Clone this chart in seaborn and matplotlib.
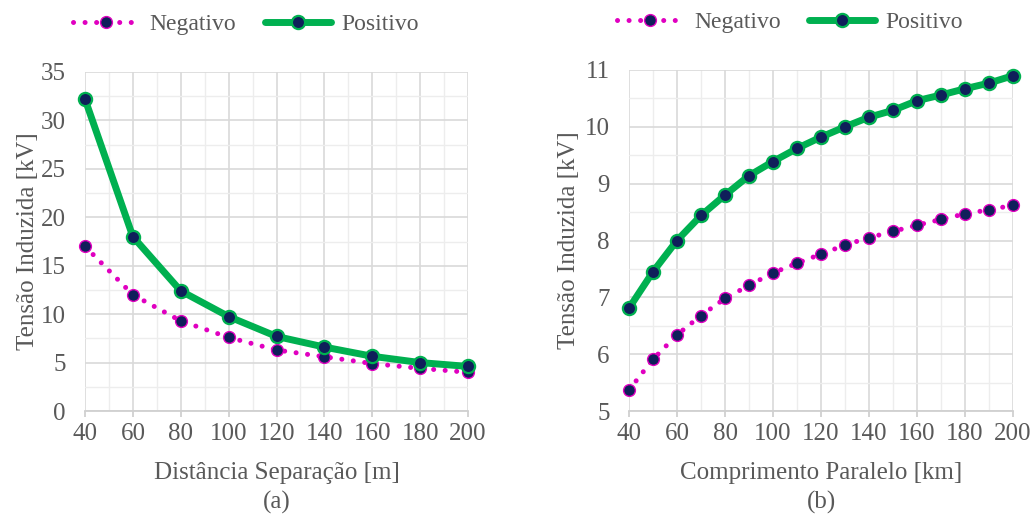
import numpy as np
import pandas as pd
import matplotlib
matplotlib.use("Agg")
import matplotlib.pyplot as plt
import seaborn as sns
from matplotlib.ticker import MultipleLocator
from matplotlib.lines import Line2D

# ---- data ----
dist_a = [40, 60, 80, 100, 120, 140, 160, 180, 200]
neg_a = [17.0, 12.0, 9.3, 7.6, 6.3, 5.6, 4.9, 4.4, 4.0]
pos_a = [32.2, 18.0, 12.4, 9.75, 7.7, 6.6, 5.65, 5.0, 4.6]

comp_b = [40, 50, 60, 70, 80, 90, 100, 110, 120, 130, 140, 150, 160, 170, 180, 190, 200]
neg_b = [5.37, 5.91, 6.34, 6.68, 6.98, 7.21, 7.43, 7.60, 7.76, 7.92, 8.05, 8.16, 8.27, 8.37, 8.47, 8.54, 8.62]
pos_b = [6.81, 7.45, 8.00, 8.44, 8.80, 9.14, 9.39, 9.62, 9.82, 10.00, 10.17, 10.29, 10.46, 10.56, 10.67, 10.77, 10.90]

series_names = ["Negativo", "Positivo"]

sns.set_theme(style="white")
plt.rcParams['font.family'] = ['Liberation Serif', 'DejaVu Serif']

TXT = "#595959"
MAG = "#E000C0"
GRN = "#00B050"
NAVY = "#0F1F5A"
DOT = (0, (0.01, 2.3))

fig = plt.figure(figsize=(10.32, 5.14), dpi=100)
axA = fig.add_axes([85/1032, 1-411/514, (468-85)/1032, (411-72)/514])
axB = fig.add_axes([629/1032, 1-411/514, (1013-629)/1032, (411-70)/514])

def draw(ax, x, neg, pos):
    sns.lineplot(x=x, y=neg, ax=ax, color=MAG, linewidth=3.6,
                 linestyle=DOT, dash_capstyle='round',
                 marker='o', markersize=8.5, markerfacecolor=NAVY,
                 markeredgecolor=MAG, markeredgewidth=1.0, zorder=3)
    sns.lineplot(x=x, y=pos, ax=ax, color=GRN, linewidth=5.0,
                 marker='o', markersize=9.5, markerfacecolor=NAVY,
                 markeredgecolor=GRN, markeredgewidth=1.6, zorder=4)
    for l in ax.lines:
        l.set_clip_on(False)

draw(axA, dist_a, neg_a, pos_a)
draw(axB, comp_b, neg_b, pos_b)

def style(ax, ylim, ymaj, ymin, xlabel, sub, ylpad):
    ax.set_xlim(40, 200)
    ax.set_ylim(*ylim)
    ax.xaxis.set_major_locator(MultipleLocator(20))
    ax.xaxis.set_minor_locator(MultipleLocator(10))
    ax.yaxis.set_major_locator(MultipleLocator(ymaj))
    ax.yaxis.set_minor_locator(MultipleLocator(ymin))
    ax.grid(which='major', color='#D9D9D9', linewidth=1.2)
    ax.grid(which='minor', color='#EDEDED', linewidth=1.0)
    ax.set_axisbelow(True)
    for name, s in ax.spines.items():
        if name == 'bottom':
            s.set_visible(True)
            s.set_color('#D0D0D0')
            s.set_linewidth(1.3)
        else:
            s.set_visible(False)
    ax.tick_params(axis='y', which='both', length=0, labelsize=18,
                   labelcolor=TXT, pad=14)
    ax.tick_params(axis='x', which='major', length=4, width=1.3,
                   color='#D0D0D0', direction='out', labelsize=18,
                   labelcolor=TXT, pad=5, bottom=True)
    ax.tick_params(axis='x', which='minor', length=0)
    ax.set_ylabel("Tensão Induzida [kV]", fontsize=18, color=TXT, labelpad=ylpad)
    ax.set_xlabel(xlabel + "\n" + sub, fontsize=18, color=TXT, labelpad=12,
                  linespacing=1.38)
    handles = [
        Line2D([], [], color=MAG, linewidth=3.6, linestyle=DOT,
               dash_capstyle='round', marker='o', markersize=8.5,
               markerfacecolor=NAVY, markeredgecolor=MAG),
        Line2D([], [], color=GRN, linewidth=5.0, marker='o', markersize=9.5,
               markerfacecolor=NAVY, markeredgecolor=GRN, markeredgewidth=1.6),
    ]
    ax.legend(handles, series_names, loc='center',
              bbox_to_anchor=(0.42, 1.14), ncol=2, frameon=False,
              fontsize=17, handlelength=2.8, columnspacing=1.2,
              handletextpad=0.45, labelcolor=TXT, borderaxespad=0)

style(axA, (0, 35), 5, 2.5, "Distância Separação [m]", "(a)", 1)
style(axB, (5, 11), 1, 0.5, "Comprimento Paralelo [km]", "(b)", 3)

fig.savefig("out.png", dpi=100)
